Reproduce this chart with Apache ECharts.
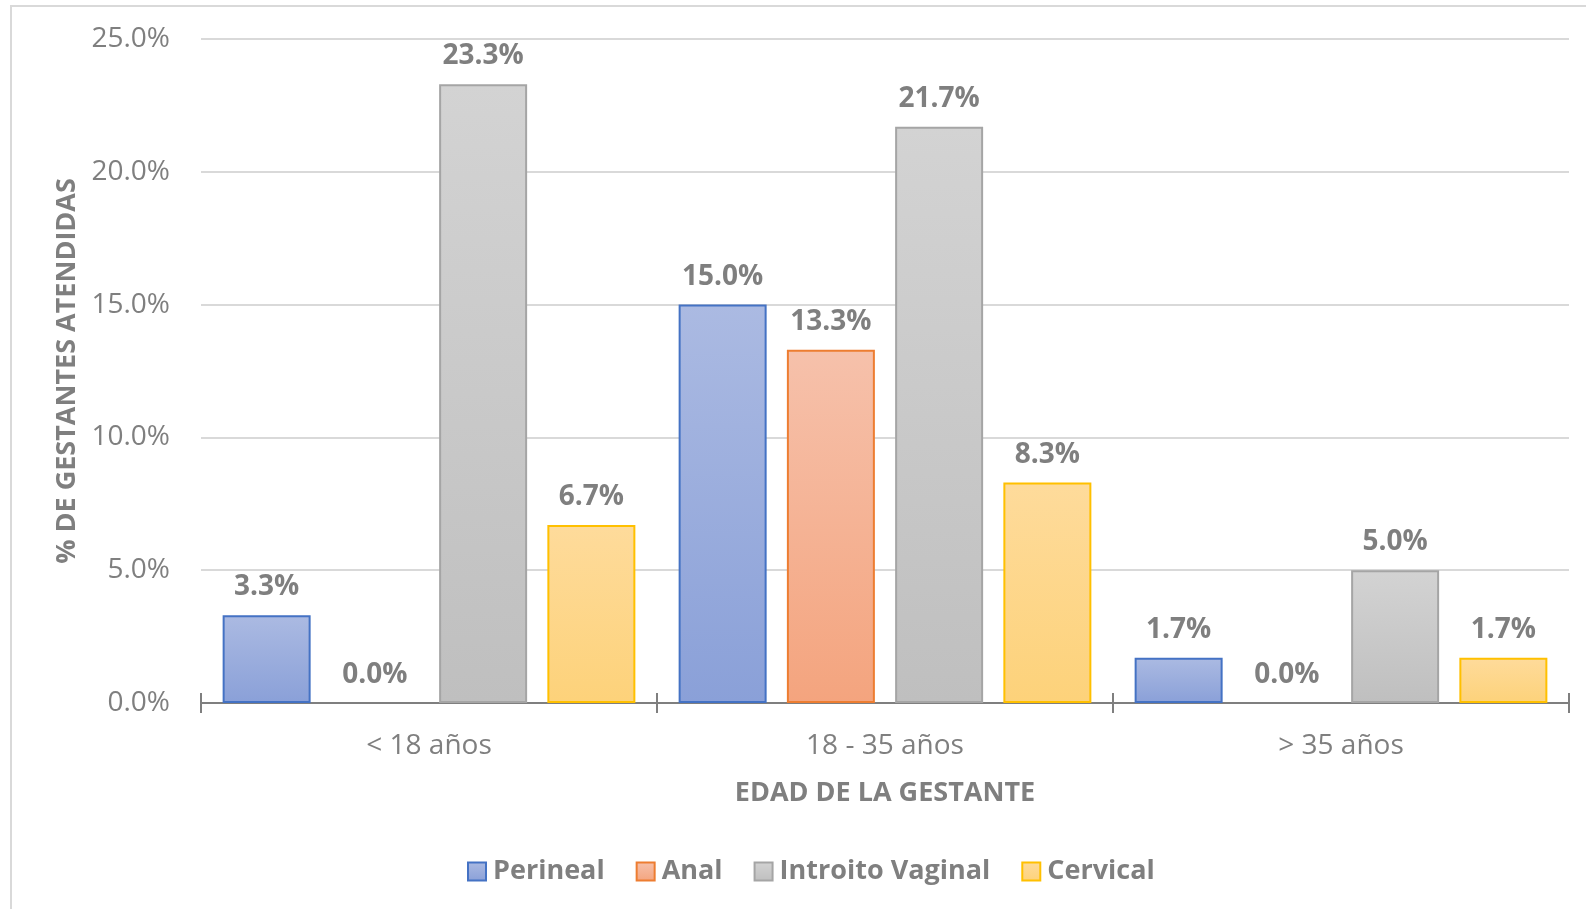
<!DOCTYPE html>
<html>
<head>
<meta charset="utf-8">
<script src="https://cdn.jsdelivr.net/npm/echarts@6/dist/echarts.min.js"></script>
<style>html,body{margin:0;padding:0;background:#fff}#c{width:1586px;height:909px}</style>
</head>
<body>
<div id="c"></div>
<script>
const categories = ['< 18 años', '18 - 35 años', '> 35 años'];
const perineal = [3.3, 15.0, 1.7];
const anal = [0.0, 13.3, 0.0];
const introito = [23.3, 21.7, 5.0];
const cervical = [6.7, 8.3, 1.7];
const seriesNames = ['Perineal', 'Anal', 'Introito Vaginal', 'Cervical'];
const yTicks = [0, 5, 10, 15, 20, 25];

const FONT = 'Open Sans';
const TXT = '#7f7f7f';
const styles = [
  {top: '#abbae2', bottom: '#8aa0d8', border: '#4472c4'},
  {top: '#f6c1ab', bottom: '#f4a47e', border: '#ed7d31'},
  {top: '#d3d3d3', bottom: '#bfbfbf', border: '#a5a5a5'},
  {top: '#fedb9b', bottom: '#fdd27a', border: '#ffc000'}
];
const grad = s => new echarts.graphic.LinearGradient(0, 0, 0, 1, [{offset: 0, color: s.top}, {offset: 1, color: s.bottom}]);

const chart = echarts.init(document.getElementById('c'));
const mk = (name, data, i) => ({
  name, type: 'bar',
  data: data.map(v => v === 0 ? {value: v, itemStyle: {borderWidth: 0}} : v),
  barWidth: 88, barGap: '23%',
  itemStyle: {color: grad(styles[i]), borderColor: styles[i].border, borderWidth: 2},
  label: {show: true, position: 'top', distance: 14, fontFamily: FONT, fontSize: 28, fontWeight: 'bold', color: TXT,
    formatter: p => p.value.toFixed(1) + '%'},
  xAxisIndex: 0
});
chart.setOption({
  animation: false,
  textStyle: {fontFamily: FONT},
  graphic: [{type: 'rect', shape: {x: 11, y: 6, width: 1700, height: 1100}, style: {fill: 'none', stroke: '#d9d9d9', lineWidth: 2}, silent: true}],
  grid: {left: 201, right: 17, top: 39, bottom: 206, containLabel: false},
  legend: {
    data: seriesNames, left: 467, top: 858, padding: 0, icon: 'rect', itemWidth: 18, itemHeight: 18, itemGap: 31,
    textStyle: {fontFamily: FONT, fontSize: 27, fontWeight: 'bold', color: TXT, padding: [0, 0, 0, 2]}
  },
  xAxis: [{
    type: 'category', data: categories,
    axisLine: {lineStyle: {color: '#7f7f7f', width: 2}},
    axisTick: {show: true, length: 10, lineStyle: {color: '#7f7f7f', width: 2}},
    axisLabel: {fontFamily: FONT, fontSize: 28, color: TXT, margin: 29},
    name: 'EDAD DE LA GESTANTE', nameLocation: 'middle', nameGap: 77,
    nameTextStyle: {fontFamily: FONT, fontSize: 27, fontWeight: 'bold', color: TXT}
  }, {
    type: 'category', data: categories, position: 'bottom',
    axisLine: {show: false}, axisLabel: {show: false},
    axisTick: {show: true, inside: true, length: 10, lineStyle: {color: '#7f7f7f', width: 2}}
  }],
  yAxis: {
    type: 'value', min: 0, max: 25, interval: 5,
    axisLine: {show: false}, axisTick: {show: false},
    splitLine: {lineStyle: {color: '#d9d9d9', width: 2}},
    axisLabel: {fontFamily: FONT, fontSize: 28, color: TXT, margin: 31, formatter: v => yTicks.includes(v) ? v.toFixed(1) + '%' : ''},
    name: '% DE GESTANTES ATENDIDAS', nameLocation: 'middle', nameGap: 119, nameRotate: 90,
    nameTextStyle: {fontFamily: FONT, fontSize: 27, fontWeight: 'bold', color: TXT}
  },
  series: [mk(seriesNames[0], perineal, 0), mk(seriesNames[1], anal, 1), mk(seriesNames[2], introito, 2), mk(seriesNames[3], cervical, 3)]
});
</script>
</body>
</html>
